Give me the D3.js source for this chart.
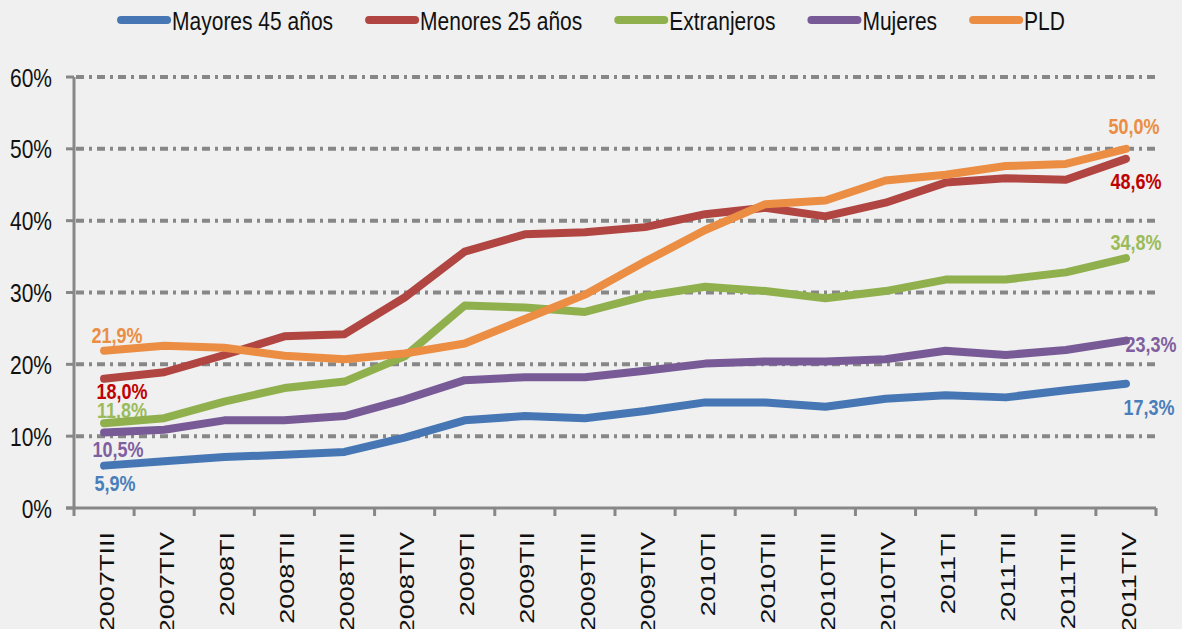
<!DOCTYPE html>
<meta charset="utf-8">
<body style="margin:0;background:#eff0ef">
<script src="https://d3js.org/d3.v7.min.js"></script>
<script>
var categories = ["2007TIII","2007TIV","2008TI","2008TII","2008TIII","2008TIV","2009TI","2009TII","2009TIII",
                  "2009TIV","2010TI","2010TII","2010TIII","2010TIV","2011TI","2011TII","2011TIII","2011TIV"];
var seriesNames = ["Mayores 45 años","Menores 25 años","Extranjeros","Mujeres","PLD"];
var mayores     = [5.9, 6.5, 7.1, 7.4, 7.8, 9.8, 12.2, 12.8, 12.5, 13.5, 14.7, 14.7, 14.1, 15.2, 15.7, 15.4, 16.4, 17.3];
var menores     = [18.0, 18.9, 21.3, 23.9, 24.2, 29.3, 35.7, 38.1, 38.4, 39.1, 40.9, 41.8, 40.6, 42.5, 45.3, 45.9, 45.7, 48.6];
var extranjeros = [11.8, 12.5, 14.8, 16.7, 17.6, 21.1, 28.2, 27.9, 27.3, 29.5, 30.8, 30.2, 29.2, 30.2, 31.8, 31.8, 32.8, 34.8];
var mujeres     = [10.5, 10.9, 12.2, 12.2, 12.8, 15.1, 17.8, 18.2, 18.2, 19.1, 20.1, 20.4, 20.4, 20.7, 21.9, 21.3, 22.0, 23.3];
var pld         = [21.9, 22.6, 22.3, 21.2, 20.7, 21.5, 22.9, 26.3, 29.7, 34.3, 38.7, 42.3, 42.8, 45.6, 46.4, 47.6, 47.9, 50.0];
var yTicks = [0, 10, 20, 30, 40, 50, 60];

var series = [mayores, menores, extranjeros, mujeres, pld];
var lineColors  = ["#4677b4", "#b04542", "#8fb04d", "#785a97", "#eb8d43"];
var labelColors = ["#4a7ebb", "#c00000", "#9bbb59", "#7f5f9f", "#eb8d43"];
// label offsets [dx, dy] from first / last point
var firstOff = [[11, 25], [18, 20], [18, -5], [14, 24], [13, -8]];
var lastOff  = [[23, 31], [10, 30], [10, -8], [25, 11], [8, -15]];

var width = 1182, height = 629;
var plotLeft = 74, plotRight = 1156, plotTop = 77, plotBottom = 508;

var svg = d3.select("body").append("svg")
    .attr("width", width)
    .attr("height", height)
    .style("display", "block");

svg.append("rect").attr("width", width).attr("height", height).attr("fill", "#eff0ef");

var x = d3.scaleBand().domain(categories).range([plotLeft, plotRight]);
var y = d3.scaleLinear().domain([0, 60]).range([plotBottom, plotTop]);
var grey = "#878787";

// gridlines
svg.selectAll(".grid")
    .data(yTicks.filter(function(d) { return d > 0; }))
    .enter().append("line")
    .attr("x1", plotLeft + 2).attr("x2", plotRight)
    .attr("y1", function(d) { return y(d); })
    .attr("y2", function(d) { return y(d); })
    .attr("stroke", grey)
    .attr("stroke-width", 4)
    .attr("stroke-dasharray", "8,5,3,5");

// y axis
svg.append("line").attr("x1", plotLeft).attr("x2", plotLeft).attr("y1", plotTop).attr("y2", plotBottom)
    .attr("stroke", grey).attr("stroke-width", 3);
svg.selectAll(".ytick").data(yTicks).enter().append("line")
    .attr("x1", plotLeft - 8).attr("x2", plotLeft)
    .attr("y1", function(d) { return y(d); }).attr("y2", function(d) { return y(d); })
    .attr("stroke", grey).attr("stroke-width", 3);
svg.selectAll(".ylab").data(yTicks).enter().append("text")
    .attr("transform", function(d) { return "translate(52," + y(d) + ") scale(1,1.26)"; })
    .attr("dy", "0.36em")
    .attr("text-anchor", "end")
    .style("font-family", "'Liberation Sans', Arial, sans-serif")
    .style("font-size", "21px")
    .attr("fill", "#111")
    .text(function(d) { return d + "%"; });

// x axis
svg.append("line").attr("x1", plotLeft - 8).attr("x2", plotRight).attr("y1", plotBottom).attr("y2", plotBottom)
    .attr("stroke", grey).attr("stroke-width", 3);
var bounds = categories.map(function(c) { return x(c); }).concat([plotRight]);
svg.selectAll(".xtick").data(bounds).enter().append("line")
    .attr("x1", function(d) { return d; }).attr("x2", function(d) { return d; })
    .attr("y1", plotBottom).attr("y2", plotBottom + 8)
    .attr("stroke", grey).attr("stroke-width", 3);
svg.selectAll(".xlab").data(categories).enter().append("text")
    .attr("transform", function(d) {
        return "translate(" + (x(d) + x.bandwidth() / 2 + 2) + ",532) rotate(-90) scale(1.29,1)";
    })
    .attr("dy", "0.36em")
    .attr("text-anchor", "end")
    .style("font-family", "'Liberation Sans', Arial, sans-serif")
    .style("font-size", "21px")
    .attr("fill", "#111")
    .text(function(d) { return d; });

var cx = function(i) { return x(categories[i]) + x.bandwidth() / 2; };
var fmt = function(v) { return d3.format(".1f")(v).replace(".", ",") + "%"; };

// value labels (drawn under the lines)
series.forEach(function(s, k) {
    var n = s.length - 1;
    [[0, firstOff[k]], [n, lastOff[k]]].forEach(function(p) {
        svg.append("text")
            .attr("transform", "translate(" + (cx(p[0]) + p[1][0]) + "," + (y(s[p[0]]) + p[1][1]) + ") scale(1,1.18)")
            .attr("text-anchor", "middle")
            .style("font-family", "'Liberation Sans', Arial, sans-serif")
            .style("font-size", "18px")
            .style("font-weight", "bold")
            .attr("fill", labelColors[k])
            .text(fmt(s[p[0]]));
    });
});

// lines
var line = d3.line()
    .x(function(d, i) { return cx(i); })
    .y(function(d) { return y(d); });

svg.selectAll(".series").data(series).enter().append("path")
    .attr("d", line)
    .attr("fill", "none")
    .attr("stroke", function(d, i) { return lineColors[i]; })
    .attr("stroke-width", 8)
    .attr("stroke-linecap", "round")
    .attr("stroke-linejoin", "round");

// legend
var legend = svg.append("g");
var cursor = 0;
seriesNames.forEach(function(name, i) {
    var g = legend.append("g").attr("transform", "translate(" + cursor + ",0)");
    g.append("line").attr("x1", 4).attr("x2", 50).attr("y1", 20).attr("y2", 20)
        .attr("stroke", lineColors[i]).attr("stroke-width", 8).attr("stroke-linecap", "round");
    var t = g.append("text")
        .attr("transform", "translate(55,20) scale(1,1.26)")
        .attr("dy", "0.36em")
        .style("font-family", "'Liberation Sans', Arial, sans-serif")
        .style("font-size", "21px")
        .attr("fill", "#111")
        .text(name);
    cursor += 55 + t.node().getComputedTextLength() + 32;
});
var total = cursor - 32;
legend.attr("transform", "translate(" + (591 - total / 2) + ",0)");
</script>
</body>
</html>
